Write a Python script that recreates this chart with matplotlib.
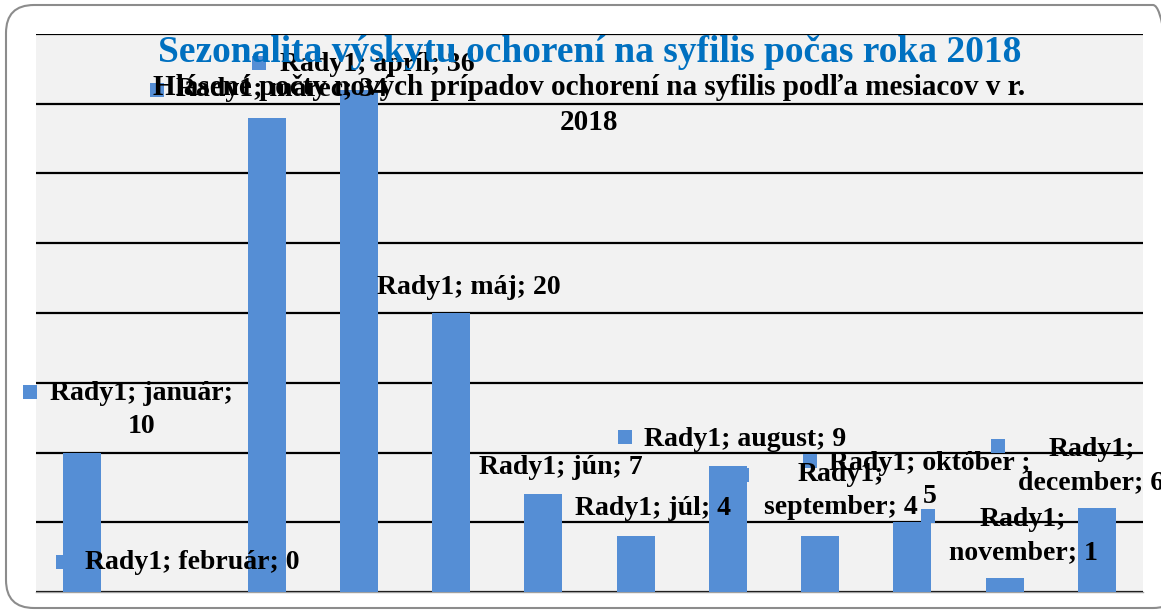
import numpy as np
import matplotlib
matplotlib.use("Agg")
import matplotlib.pyplot as plt
from matplotlib.patches import FancyBboxPatch

months = ['január', 'február', 'marec', 'apríl', 'máj', 'jún', 'júl',
          'august', 'september', 'október', 'november', 'december']
cases = [10, 0, 34, 36, 20, 7, 4, 9, 4, 5, 1, 6]
series = 'Rady1'

title = 'Sezonalita výskytu ochorení na syfilis počas roka 2018'
subtitle = 'Hlásené počty nových prípadov ochorení na syfilis podľa mesiacov v r.\n2018'

# label text templates (line breaks as in the original chart)
label_fmt = ['{s}; {m};\n{v}', '{s}; {m}; {v}', '{s}; {m}; {v}', '{s}; {m}; {v}',
             '{s}; {m}; {v}', '{s}; {m}; {v}', '{s}; {m}; {v}', '{s}; {m}; {v}',
             '{s};\n{m}; {v}', '{s}; {m} ;\n{v}', '{s};\n{m}; {v}', '{s};\n{m}; {v}']
# label anchor positions (data units) - they are scattered in the original
label_pos = [(0.64, 13.05), (1.19, 2.08), (2.16, 36.0), (3.20, 37.8),
             (4.19, 21.86), (5.19, 8.96), (6.19, 6.02), (7.19, 10.9),
             (8.22, 7.24), (9.19, 8.03), (10.20, 4.01), (10.94, 9.03)]
# little legend-key squares left of some labels (data units)
key_pos = [(-0.565, 14.34), (-0.21, 2.15), (0.81, 35.99), (1.92, 37.92),
           (5.885, 11.11), (7.89, 9.39), (9.17, 5.45), (9.93, 10.47), (7.15, 8.39)]

bar_color = '#558ED5'
serif = ['Liberation Serif', 'DejaVu Serif']

W, H = 1161, 613
fig = plt.figure(figsize=(W / 100, H / 100), dpi=100)
ax = fig.add_axes([36 / W, (H - 592) / H, (1143 - 36) / W, (592 - 34) / H])
ax.set_facecolor('#F2F2F2')

x = np.arange(len(months))
ax.bar(x, cases, width=0.41, color=bar_color, zorder=3)

ax.set_xlim(-0.5, len(months) - 0.5)
ax.set_ylim(0, 40)
ax.set_yticks(np.arange(0, 41, 5))
ax.grid(axis='y', color='black', linewidth=1.6, zorder=1)
ax.set_xticks([])
ax.tick_params(left=False, labelleft=False)
for sp in ['left', 'right', 'top']:
    ax.spines[sp].set_visible(False)
ax.spines['bottom'].set_color('#a0a0a0')
ax.spines['bottom'].set_linewidth(1.0)

kx, ky = zip(*key_pos)
ax.scatter(kx, ky, marker='s', s=100, color=bar_color, linewidths=0,
           zorder=2, clip_on=False)

for i, (m, v) in enumerate(zip(months, cases)):
    txt = label_fmt[i].format(s=series, m=m, v=v)
    ax.text(label_pos[i][0], label_pos[i][1], txt, ha='center', va='center',
            multialignment='center', fontsize=20, fontweight='bold',
            family=serif, linespacing=1.4, zorder=5, clip_on=False)

fig.text(590 / W, 1 - 53 / H, title, ha='center', va='center', fontsize=27,
         fontweight='bold', color='#0070C0', family=serif)
fig.text(589 / W, 1 - 105 / H, subtitle, ha='center', va='center',
         multialignment='center', fontsize=21, fontweight='bold',
         family=serif, linespacing=1.42)

border = FancyBboxPatch((6, 5), 1175, 603, boxstyle='round,pad=0,rounding_size=28',
                        transform=None, facecolor='none', edgecolor='#8c8c8c',
                        linewidth=1.5)
fig.add_artist(border)

fig.savefig('out.png', dpi=100)
